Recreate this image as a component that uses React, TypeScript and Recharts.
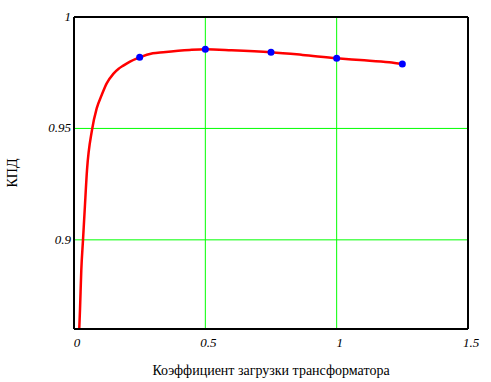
import { ComposedChart, Line, Scatter, XAxis, YAxis, CartesianGrid, ReferenceLine } from "recharts";

// load factor (beta) vs efficiency
const curveBeta = [0.02, 0.0228, 0.0278, 0.0343, 0.0407, 0.0495, 0.0685, 0.0864, 0.1055, 0.1245, 0.1496, 0.17, 0.1877, 0.2132, 0.25, 0.3, 0.34, 0.44, 0.5, 0.6, 0.75, 0.87, 1.0, 1.09, 1.2, 1.25];
const curveEta = [0.86, 0.8685, 0.8865, 0.9, 0.9134, 0.9313, 0.9493, 0.959, 0.965, 0.9702, 0.9745, 0.9768, 0.9782, 0.98, 0.9819, 0.9837, 0.9842, 0.9852, 0.9855, 0.9851, 0.9842, 0.983, 0.9815, 0.9807, 0.9797, 0.9789];

const pointBeta = [0.25, 0.5, 0.75, 1.0, 1.25];
const pointEta = [0.9819, 0.9855, 0.9842, 0.9815, 0.9789];

const xTicks = [0, 0.5, 1, 1.5];
const yTicks = [0.9, 0.95, 1];

const curve = curveBeta.map((b, i) => ({ beta: b, eta: curveEta[i] }));
const points = pointBeta.map((b, i) => ({ beta: b, eta: pointEta[i] }));

const serif = "'Liberation Serif', 'Times New Roman', serif";

const XTick = ({ x, y, payload }: any) => (
    <text x={x + 3} y={y + 18} textAnchor="middle" fill="#000" style={{ fontFamily: serif, fontStyle: "italic", fontSize: 13 }}>
        {String(payload.value)}
    </text>
);

const YTick = ({ x, y, payload }: any) => (
    <text x={x} y={y + 4} textAnchor="end" fill="#000" style={{ fontFamily: serif, fontStyle: "italic", fontSize: 13 }}>
        {String(payload.value)}
    </text>
);

export default function App() {
    return (
        <div style={{ position: "absolute", left: 0, top: 0, width: 491, height: 382, background: "#fff", fontFamily: serif }}>
            <style>{`.recharts-wrapper text { font-family: ${serif} !important; }`}</style>
            <ComposedChart width={491} height={382} data={curve} margin={{ top: 17, right: 23, left: 0, bottom: 0 }}>
                <CartesianGrid stroke="#00ff00" strokeWidth={1} />
                <XAxis
                    dataKey="beta"
                    type="number"
                    domain={[0, 1.5]}
                    ticks={xTicks}
                    height={53}
                    tickLine={false}
                    tickSize={0}
                    tickMargin={0}
                    axisLine={{ stroke: "#000", strokeWidth: 2 }}
                    tick={<XTick />}
                    label={{
                        value: "Коэффициент загрузки трансформатора",
                        position: "insideBottom",
                        offset: 7,
                        fill: "#000",
                        fontSize: 14,
                    }}
                />
                <YAxis
                    dataKey="eta"
                    type="number"
                    domain={[0.86, 1]}
                    ticks={yTicks}
                    width={74}
                    tickLine={false}
                    tickSize={3}
                    tickMargin={0}
                    axisLine={{ stroke: "#000", strokeWidth: 2 }}
                    tick={<YTick />}
                    allowDataOverflow
                    label={{
                        value: "КПД",
                        angle: -90,
                        position: "insideLeft",
                        offset: 12,
                        fill: "#000",
                        fontSize: 14,
                        style: { textAnchor: "middle" },
                    }}
                />
                <ReferenceLine y={1} stroke="#000" strokeWidth={2} />
                <ReferenceLine x={1.5} stroke="#000" strokeWidth={2} />
                <Line
                    dataKey="eta"
                    type="monotone"
                    stroke="#ff0000"
                    strokeWidth={2.5}
                    dot={false}
                    activeDot={false}
                    isAnimationActive={false}
                />
                <Scatter data={points} dataKey="eta" fill="#0000ff" shape={(p: any) => <circle cx={p.cx} cy={p.cy} r={3.5} fill="#0000ff" />} isAnimationActive={false} />
            </ComposedChart>
        </div>
    );
}
